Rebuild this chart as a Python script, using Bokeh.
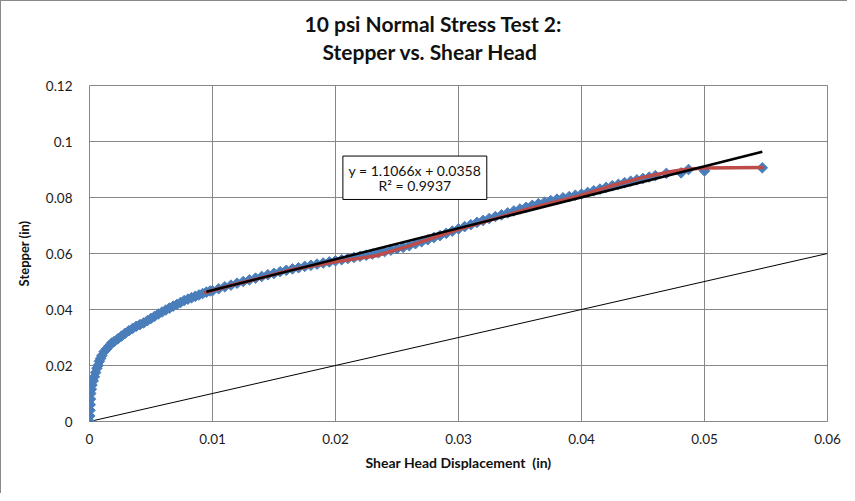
import math
from bokeh.plotting import figure
from bokeh.models import Label, BoxAnnotation, FixedTicker, Range1d, Title
from bokeh.embed import file_html
from bokeh.resources import INLINE

# ---------------- data ----------------
title_line1 = "10 psi Normal Stress Test 2:"
title_line2 = "Stepper vs. Shear Head"
x_label = "Shear Head Displacement\u00a0\u00a0(in)"
y_label = "Stepper (in)"

x_ticks = [0, 0.01, 0.02, 0.03, 0.04, 0.05, 0.06]
x_tick_labels = ["0", "0.01", "0.02", "0.03", "0.04", "0.05", "0.06"]
y_ticks = [0, 0.02, 0.04, 0.06, 0.08, 0.1, 0.12]
y_tick_labels = ["0", "0.02", "0.04", "0.06", "0.08", "0.1", "0.12"]

# measured data: shear head displacement (in) vs stepper (in)
shear_x = [
    0, 0.00002, 0.00004, 0.00006, 0.00008, 0.0001, 0.00015, 0.0002, 0.0003, 0.0004,
    0.0005, 0.0006, 0.0007, 0.0008, 0.0009, 0.001, 0.0012, 0.0014, 0.0016, 0.0018,
    0.002, 0.0023, 0.0026, 0.0029, 0.0032, 0.0035, 0.0038, 0.0041, 0.0044, 0.0047,
    0.005, 0.0053, 0.0056, 0.0059, 0.0062, 0.0065, 0.0068, 0.0071, 0.0074, 0.0077,
    0.008, 0.0083, 0.0086, 0.0089, 0.0092, 0.0095, 0.0098,
    0.0100, 0.0105, 0.0110, 0.0115, 0.0120, 0.0125, 0.0130, 0.0135, 0.0140, 0.0145,
    0.0150, 0.0155, 0.0160, 0.0165, 0.0170, 0.0175, 0.0180, 0.0185, 0.0190, 0.0195,
    0.0200, 0.0205, 0.0210, 0.0215, 0.0220, 0.0225, 0.0230, 0.0235, 0.0240, 0.0245,
    0.0250, 0.0255, 0.0260, 0.0265, 0.0270, 0.0275, 0.0280, 0.0285, 0.0290, 0.0295,
    0.0300, 0.0305, 0.0310, 0.0315, 0.0320, 0.0325, 0.0330, 0.0335, 0.0340, 0.0345,
    0.0350, 0.0355, 0.0360, 0.0365, 0.0370, 0.0375, 0.0380, 0.0385, 0.0390, 0.0395,
    0.0400, 0.0405, 0.0410, 0.0415, 0.0420, 0.0425, 0.0430, 0.0435, 0.0440, 0.0445,
    0.0450, 0.0455, 0.0460, 0.0469, 0.0481, 0.0487, 0.0500, 0.0547,
]
stepper_y = [
    0, 0.002, 0.004, 0.006, 0.008, 0.010, 0.0115, 0.013, 0.0145, 0.016,
    0.0175, 0.019, 0.020, 0.0215, 0.0225, 0.0235, 0.025, 0.026, 0.027, 0.028,
    0.0285, 0.0295, 0.0305, 0.0315, 0.0324, 0.0332, 0.034, 0.0346, 0.0352, 0.036,
    0.0368, 0.0376, 0.0384, 0.0391, 0.0398, 0.0405, 0.0412, 0.0418, 0.0425, 0.0432,
    0.0437, 0.0442, 0.0447, 0.0452, 0.0457, 0.0462, 0.0466,
    0.0467, 0.0474, 0.0481, 0.0487, 0.0494, 0.0500, 0.0506, 0.0512, 0.0518, 0.0524,
    0.0529, 0.0535, 0.0540, 0.0545, 0.0549, 0.0554, 0.0558, 0.0562, 0.0566, 0.0570,
    0.0574, 0.0578, 0.0582, 0.0586, 0.0590, 0.0594, 0.0598, 0.0603, 0.0607, 0.0612,
    0.0617, 0.0622, 0.0628, 0.0635, 0.0642, 0.0649, 0.0657, 0.0664, 0.0672, 0.0680,
    0.0688, 0.0696, 0.0703, 0.0711, 0.0718, 0.0725, 0.0732, 0.0738, 0.0745, 0.0752,
    0.0759, 0.0765, 0.0772, 0.0778, 0.0783, 0.0789, 0.0794, 0.0799, 0.0803, 0.0808,
    0.0812, 0.0818, 0.0824, 0.0830, 0.0836, 0.0842, 0.0847, 0.0853, 0.0858, 0.0863,
    0.0868, 0.0873, 0.0878, 0.0886, 0.0888, 0.0900, 0.0895, 0.0906,
]

# red smoothed series over the fitted range
fit_x = [0.00945, 0.0120, 0.0138, 0.0166, 0.0200, 0.0233, 0.0260, 0.0300, 0.0355,
         0.0400, 0.0423, 0.0450, 0.0472, 0.0482, 0.0500, 0.0547]
fit_y = [0.0461, 0.0492, 0.0511, 0.0544, 0.0570, 0.0592, 0.0627, 0.0686, 0.0757,
         0.0808, 0.0840, 0.0872, 0.0892, 0.0899, 0.0905, 0.0907]

# linear trendline (from the equation shown on the chart)
trend_slope = 1.1066
trend_intercept = 0.0358
trend_r2 = 0.9937
trend_x = [0.0095, 0.0547]

# 1:1 reference line
ref_x = [0, 0.06]
ref_y = [0, 0.06]

# ---------------- figure ----------------
FONT = "Lato"
GRID = "#878787"
TXT = "#111111"

p = figure(width=847, height=493, output_backend="svg", toolbar_location=None,
           x_range=Range1d(0, 0.06), y_range=Range1d(0, 0.12),
           min_border_left=88, min_border_right=21, min_border_top=84,
           min_border_bottom=73)
p.styles = {"border-left": "1px solid #8a8a8a", "border-top": "1px solid #8a8a8a",
            "box-sizing": "border-box"}
p.background_fill_color = "white"
p.border_fill_color = "white"
p.outline_line_color = GRID
p.outline_line_width = 1

for ax, ticks, labels in ((p.xaxis[0], x_ticks, x_tick_labels), (p.yaxis[0], y_ticks, y_tick_labels)):
    ax.ticker = FixedTicker(ticks=ticks)
    ax.major_label_overrides = {t: l for t, l in zip(ticks, labels)}
    ax.axis_line_color = None
    ax.major_tick_line_color = None
    ax.minor_tick_line_color = None
    ax.major_label_text_font = FONT
    ax.major_label_text_font_size = "13.5px"
    ax.major_label_text_color = "#1a1a1a"
    ax.axis_label_text_font = FONT
    ax.axis_label_text_font_style = "bold"
    ax.axis_label_text_color = TXT

p.xaxis.axis_label = x_label
p.yaxis.axis_label = y_label
p.xaxis.axis_label_text_font_size = "14px"
p.yaxis.axis_label_text_font_size = "13px"
p.xaxis.major_label_standoff = 6
p.xaxis.axis_label_standoff = 7
p.yaxis.major_label_standoff = 11
p.yaxis.axis_label_standoff = 11

p.xgrid.grid_line_color = GRID
p.ygrid.grid_line_color = GRID

# 1:1 line
p.line(ref_x, ref_y, line_color="black", line_width=1)

# data markers (Excel-style diamonds)
p.scatter(shear_x, stepper_y, marker="square", angle=math.pi / 4, size=7.5,
          fill_color="#4A7EBB", line_color="#4A7EBB", line_width=1)

# red series
p.line(fit_x, fit_y, line_color="#BE4B48", line_width=3.5, line_join="round", line_cap="round")

# black linear trendline
trend_y = [trend_slope * x + trend_intercept for x in trend_x]
p.line(trend_x, trend_y, line_color="black", line_width=2.5)

# equation box
box = BoxAnnotation(left=0.0206, right=0.0323, bottom=0.0793, top=0.0948,
                    fill_color="white", fill_alpha=1.0, line_color="black", line_width=1,
                    line_alpha=1.0)
p.add_layout(box)
p.add_layout(Label(x=0.02645, y=0.0897, text=f"y = {trend_slope}x + {trend_intercept}",
                   text_align="center", text_baseline="middle", text_font=FONT,
                   text_font_size="14px", text_color=TXT))
p.add_layout(Label(x=0.02645, y=0.0843, text=f"R² = {trend_r2}",
                   text_align="center", text_baseline="middle", text_font=FONT,
                   text_font_size="14px", text_color=TXT))

# two-line title: a spacer next to the plot area, then line 2, then line 1
spacer = Title(text=" ", text_font=FONT, text_font_size="10px", standoff=6)
t2 = Title(text=title_line2, align="left", offset=233, vertical_align="middle",
           text_font=FONT, text_font_size="21px", text_font_style="bold",
           text_color=TXT, standoff=1)
t1 = Title(text=title_line1, align="left", offset=215, vertical_align="middle",
           text_font=FONT, text_font_size="21px", text_font_style="bold",
           text_color=TXT, standoff=1)
p.add_layout(spacer, "above")
p.add_layout(t2, "above")
p.add_layout(t1, "above")

open("out.html", "w").write(file_html(p, INLINE))
